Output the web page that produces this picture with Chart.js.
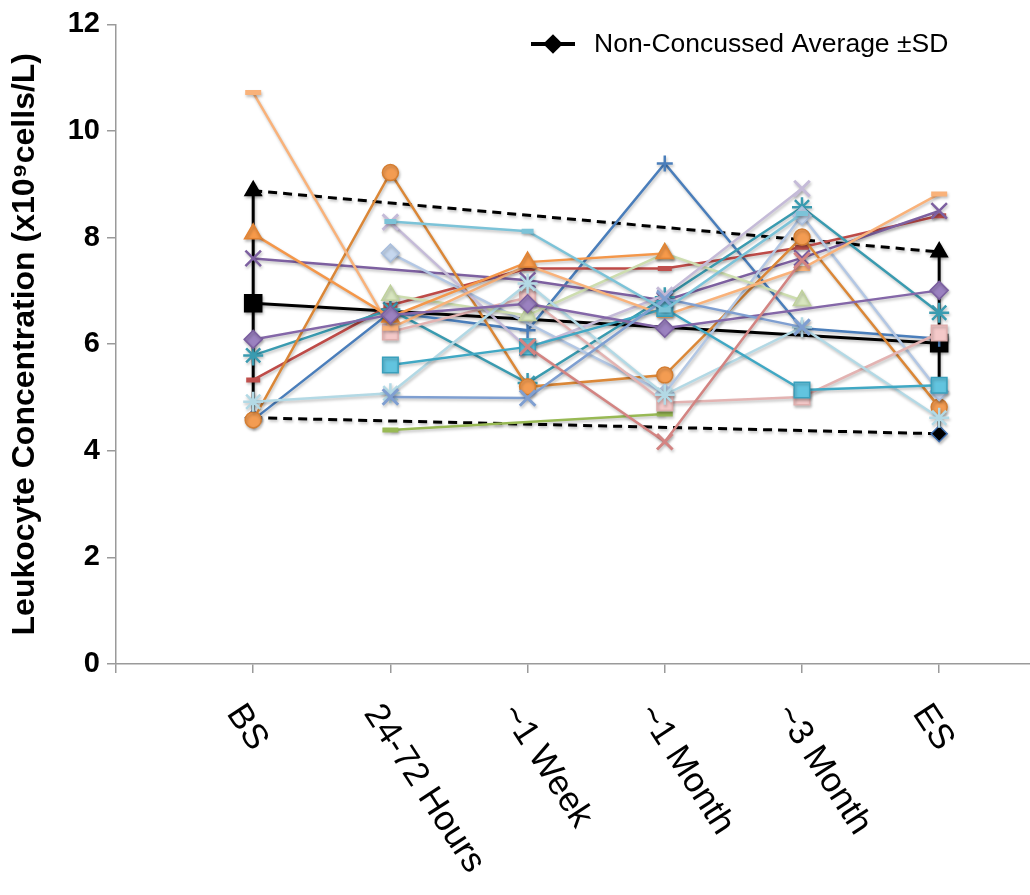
<!DOCTYPE html>
<html>
<head>
<meta charset="utf-8">
<script src="https://cdn.jsdelivr.net/npm/chart.js@4.4.1/dist/chart.umd.min.js"></script>
<style>
  html, body { margin: 0; padding: 0; background: #fff; overflow: hidden; }
  canvas { display: block; }
</style>
</head>
<body>
<canvas id="wbcChart" width="1030" height="895"></canvas>
<script>
// time points (x categories)
const timepoints = ['BS', '24-72 Hours', '~1 Week', '~1 Month', '~3 Month', 'ES'];
const yTickStep = 2;
const legendLabel = 'Non-Concussed Average \u00b1SD';

// non-concussed reference group (only BS and ES)
const controlMean  = [6.77, null, null, null, null, 6.02];
const controlUpper = [8.88, null, null, null, null, 7.73];
const controlLower = [4.62, null, null, null, null, 4.32];

// individual concussed athletes, null = no sample
const subj01 = [4.58, 6.60, 6.26, 9.39, 6.30, 6.10];
const subj02 = [5.33, 6.73, 7.42, 7.42, 7.82, 8.41];
const subj03 = [null, 4.39, null, 4.69, null, null];
const subj04 = [7.61, null, 7.20, 6.82, 7.62, 8.50];
const subj05 = [5.79, 6.65, 5.27, 6.88, 8.57, 6.59];
const subj06 = [4.58, 9.22, 5.20, 5.42, 8.01, 4.82];
const subj07 = [null, 7.71, null, 5.08, 8.41, 5.11];
const subj08 = [null, 6.23, 6.88, 4.90, 5.01, 6.21];
const subj09 = [null, 6.92, 6.54, 7.70, 6.82, null];
const subj10 = [null, 8.29, 5.92, 6.92, 8.92, null];
const subj11 = [4.92, 5.08, 7.14, 5.05, 6.32, 4.62];
const subj12 = [10.72, 6.30, 7.48, 6.54, 7.42, 8.82];
const subj13 = [8.07, 6.51, 7.54, 7.70, null, null];
const subj14 = [null, 5.61, 5.95, 6.67, 5.14, 5.23];
const subj15 = [6.09, 6.55, 6.76, 6.30, null, 7.01];
const subj16 = [null, 5.01, 4.99, 6.85, 6.32, null];
const subj17 = [null, 8.30, 8.12, 6.64, 8.45, null];
const subj18 = [null, null, 5.95, 4.17, 7.57, null];

const subjects = [subj01, subj02, subj03, subj04, subj05, subj06, subj07, subj08, subj09,
                  subj10, subj11, subj12, subj13, subj14, subj15, subj16, subj17, subj18];

// excel-ish look for each athlete line
const looks = [
  { line: '#4A7EBB', fill: '#4A7EBB', edge: '#4A7EBB', marker: 'cross',    r: 8,  bw: 2.5 },
  { line: '#BE4B48', fill: '#C0504D', edge: '#C0504D', marker: 'line',     r: 7,  bw: 5 },
  { line: '#98B954', fill: '#98B954', edge: '#98B954', marker: 'line',     r: 8,  bw: 5 },
  { line: '#7D60A0', fill: '#7D60A0', edge: '#7D60A0', marker: 'crossRot', r: 11, bw: 2.5 },
  { line: '#3A9BB0', fill: '#3A9BB0', edge: '#3A9BB0', marker: 'star',     r: 10, bw: 2.5 },
  { line: '#DB8737', fill: '#F39C52', edge: '#D47E32', marker: 'circle',   r: 8,  bw: 1.5 },
  { line: '#B3C7E4', fill: '#C6D7EE', edge: '#A9BEDD', marker: 'rectRot',  r: 9,  bw: 1.5 },
  { line: '#E3B3B2', fill: '#F4C9C9', edge: '#E0AFAE', marker: 'rect',     r: 11, bw: 1.5 },
  { line: '#CDDDAF', fill: '#D8E6BF', edge: '#BFD19C', marker: 'triangle', r: 10, bw: 1.5 },
  { line: '#C5BBD8', fill: '#C5BBD8', edge: '#C5BBD8', marker: 'crossRot', r: 11, bw: 3 },
  { line: '#B3D9E5', fill: '#B3D9E5', edge: '#B3D9E5', marker: 'star',     r: 10, bw: 2.5 },
  { line: '#F9B27A', fill: '#F9B27A', edge: '#F9B27A', marker: 'line',     r: 8,  bw: 5 },
  { line: '#F4974A', fill: '#F79A4A', edge: '#E38434', marker: 'triangle', r: 10, bw: 1.5 },
  { line: '#40A8C4', fill: '#62C4DF', edge: '#3AA0BC', marker: 'rect',     r: 11, bw: 1.5 },
  { line: '#8467A8', fill: '#9B82C0', edge: '#7B5FA0', marker: 'rectRot',  r: 9,  bw: 1.5 },
  { line: '#7F9FD1', fill: '#7F9FD1', edge: '#7F9FD1', marker: 'crossRot', r: 11, bw: 3 },
  { line: '#7CC3D8', fill: '#7CC3D8', edge: '#7CC3D8', marker: 'line',     r: 6,  bw: 5 },
  { line: '#D38482', fill: '#D38482', edge: '#D38482', marker: 'crossRot', r: 11, bw: 3 }
];

const FONT = '"Liberation Sans", Arial, Helvetica, sans-serif';
const toPts = arr => arr.map((v, i) => ({ x: i + 1, y: v }));

const datasets = subjects.map((vals, i) => ({
  label: 'Subject ' + (i + 1),
  data: toPts(vals),
  borderColor: looks[i].line,
  borderWidth: 2.5,
  pointStyle: looks[i].marker,
  pointRadius: looks[i].r,
  pointBorderWidth: looks[i].bw,
  pointBackgroundColor: looks[i].fill,
  pointBorderColor: looks[i].edge,
  spanGaps: true,
  order: 100 - i
}));

// control group: mean, ±SD lines and the error bars
datasets.push({
  label: legendLabel, data: toPts(controlMean), borderColor: '#000', borderWidth: 3,
  pointStyle: 'rect', pointRadius: 11, pointBackgroundColor: '#000', pointBorderColor: '#000',
  spanGaps: true, order: 200
});
datasets.push({
  label: 'upper', data: toPts(controlUpper), borderColor: '#000', borderWidth: 3, borderDash: [9, 6],
  pointStyle: 'triangle', pointRadius: 8, pointBackgroundColor: '#000', pointBorderColor: '#000',
  spanGaps: true, order: 201
});
datasets.push({
  label: 'lower', data: toPts(controlLower), borderColor: '#000', borderWidth: 3, borderDash: [9, 6],
  pointStyle: 'rectRot', pointRadius: 8, pointBackgroundColor: '#000', pointBorderColor: '#3F6FB0',
  pointBorderWidth: 1.5, spanGaps: true, order: 202
});
[0, timepoints.length - 1].forEach(idx => {
  datasets.push({
    label: 'sd bar', data: [{ x: idx + 1, y: controlLower[idx] }, { x: idx + 1, y: controlUpper[idx] }],
    borderColor: '#000', borderWidth: 3, pointRadius: 0, order: 203
  });
});

const shadowPlugin = {
  id: 'softShadow',
  beforeDatasetsDraw(chart) {
    const c = chart.ctx;
    c.save();
    c.shadowColor = 'rgba(0,0,0,0.25)';
    c.shadowBlur = 3;
    c.shadowOffsetX = 1;
    c.shadowOffsetY = 2;
  },
  afterDatasetsDraw(chart) { chart.ctx.restore(); }
};

const slantedLabels = {
  id: 'slantedLabels',
  afterDraw(chart) {
    const xs = chart.scales.x, ctx = chart.ctx;
    ctx.save();
    ctx.font = '35px ' + FONT;
    ctx.fillStyle = '#000';
    ctx.textAlign = 'left';
    ctx.textBaseline = 'middle';
    timepoints.forEach((lab, i) => {
      const px = xs.getPixelForValue(i + 1);
      ctx.save();
      ctx.translate(px - 19, xs.top + 44);
      ctx.rotate(57 * Math.PI / 180);
      ctx.fillText(lab, 0, 0);
      ctx.restore();
    });
    ctx.restore();
  }
};

const legendBox = {
  id: 'legendBox',
  afterDraw(chart) {
    const ctx = chart.ctx;
    const y = 44, x0 = 531, x1 = 575;
    ctx.save();
    ctx.strokeStyle = '#000';
    ctx.lineWidth = 4;
    ctx.beginPath(); ctx.moveTo(x0, y); ctx.lineTo(x1, y); ctx.stroke();
    ctx.fillStyle = '#000';
    Chart.helpers.drawPoint(ctx, { pointStyle: 'rectRot', radius: 7, borderWidth: 1 }, (x0 + x1) / 2, y);
    ctx.font = '26.5px ' + FONT;
    ctx.textAlign = 'left';
    ctx.textBaseline = 'middle';
    ctx.fillText(legendLabel, 594, y + 1);
    ctx.restore();
  }
};

new Chart(document.getElementById('wbcChart'), {
  type: 'line',
  data: { datasets: datasets },
  plugins: [shadowPlugin, slantedLabels, legendBox],
  options: {
    responsive: false,
    maintainAspectRatio: false,
    devicePixelRatio: 1,
    animation: false,
    layout: { autoPadding: false, padding: { top: 24, right: 0, left: 0, bottom: 0 } },
    plugins: { legend: { display: false }, tooltip: { enabled: false } },
    scales: {
      x: {
        type: 'linear',
        min: 0,
        max: 6.662,
        ticks: { display: false, stepSize: 1, includeBounds: false },
        grid: { drawOnChartArea: false, tickLength: 9, color: '#9a9a9a', lineWidth: 1.5 },
        border: { color: '#9a9a9a', width: 1.5 },
        afterFit: s => { s.height = 231; }
      },
      y: {
        min: 0,
        max: 12,
        ticks: { stepSize: yTickStep, color: '#000', padding: 7, font: { family: FONT, size: 29, weight: 'bold' } },
        grid: { drawOnChartArea: false, tickLength: 9, color: '#9a9a9a', lineWidth: 1.5 },
        border: { color: '#9a9a9a', width: 1.5 },
        title: {
          display: true,
          text: 'Leukocyte Concentration (x10\u2079cells/L)',
          color: '#000',
          font: { family: FONT, size: 32, weight: 'bold' },
          padding: { top: 6, bottom: 0 }
        },
        afterFit: s => { s.width = 116; }
      }
    }
  }
});
</script>
</body>
</html>
